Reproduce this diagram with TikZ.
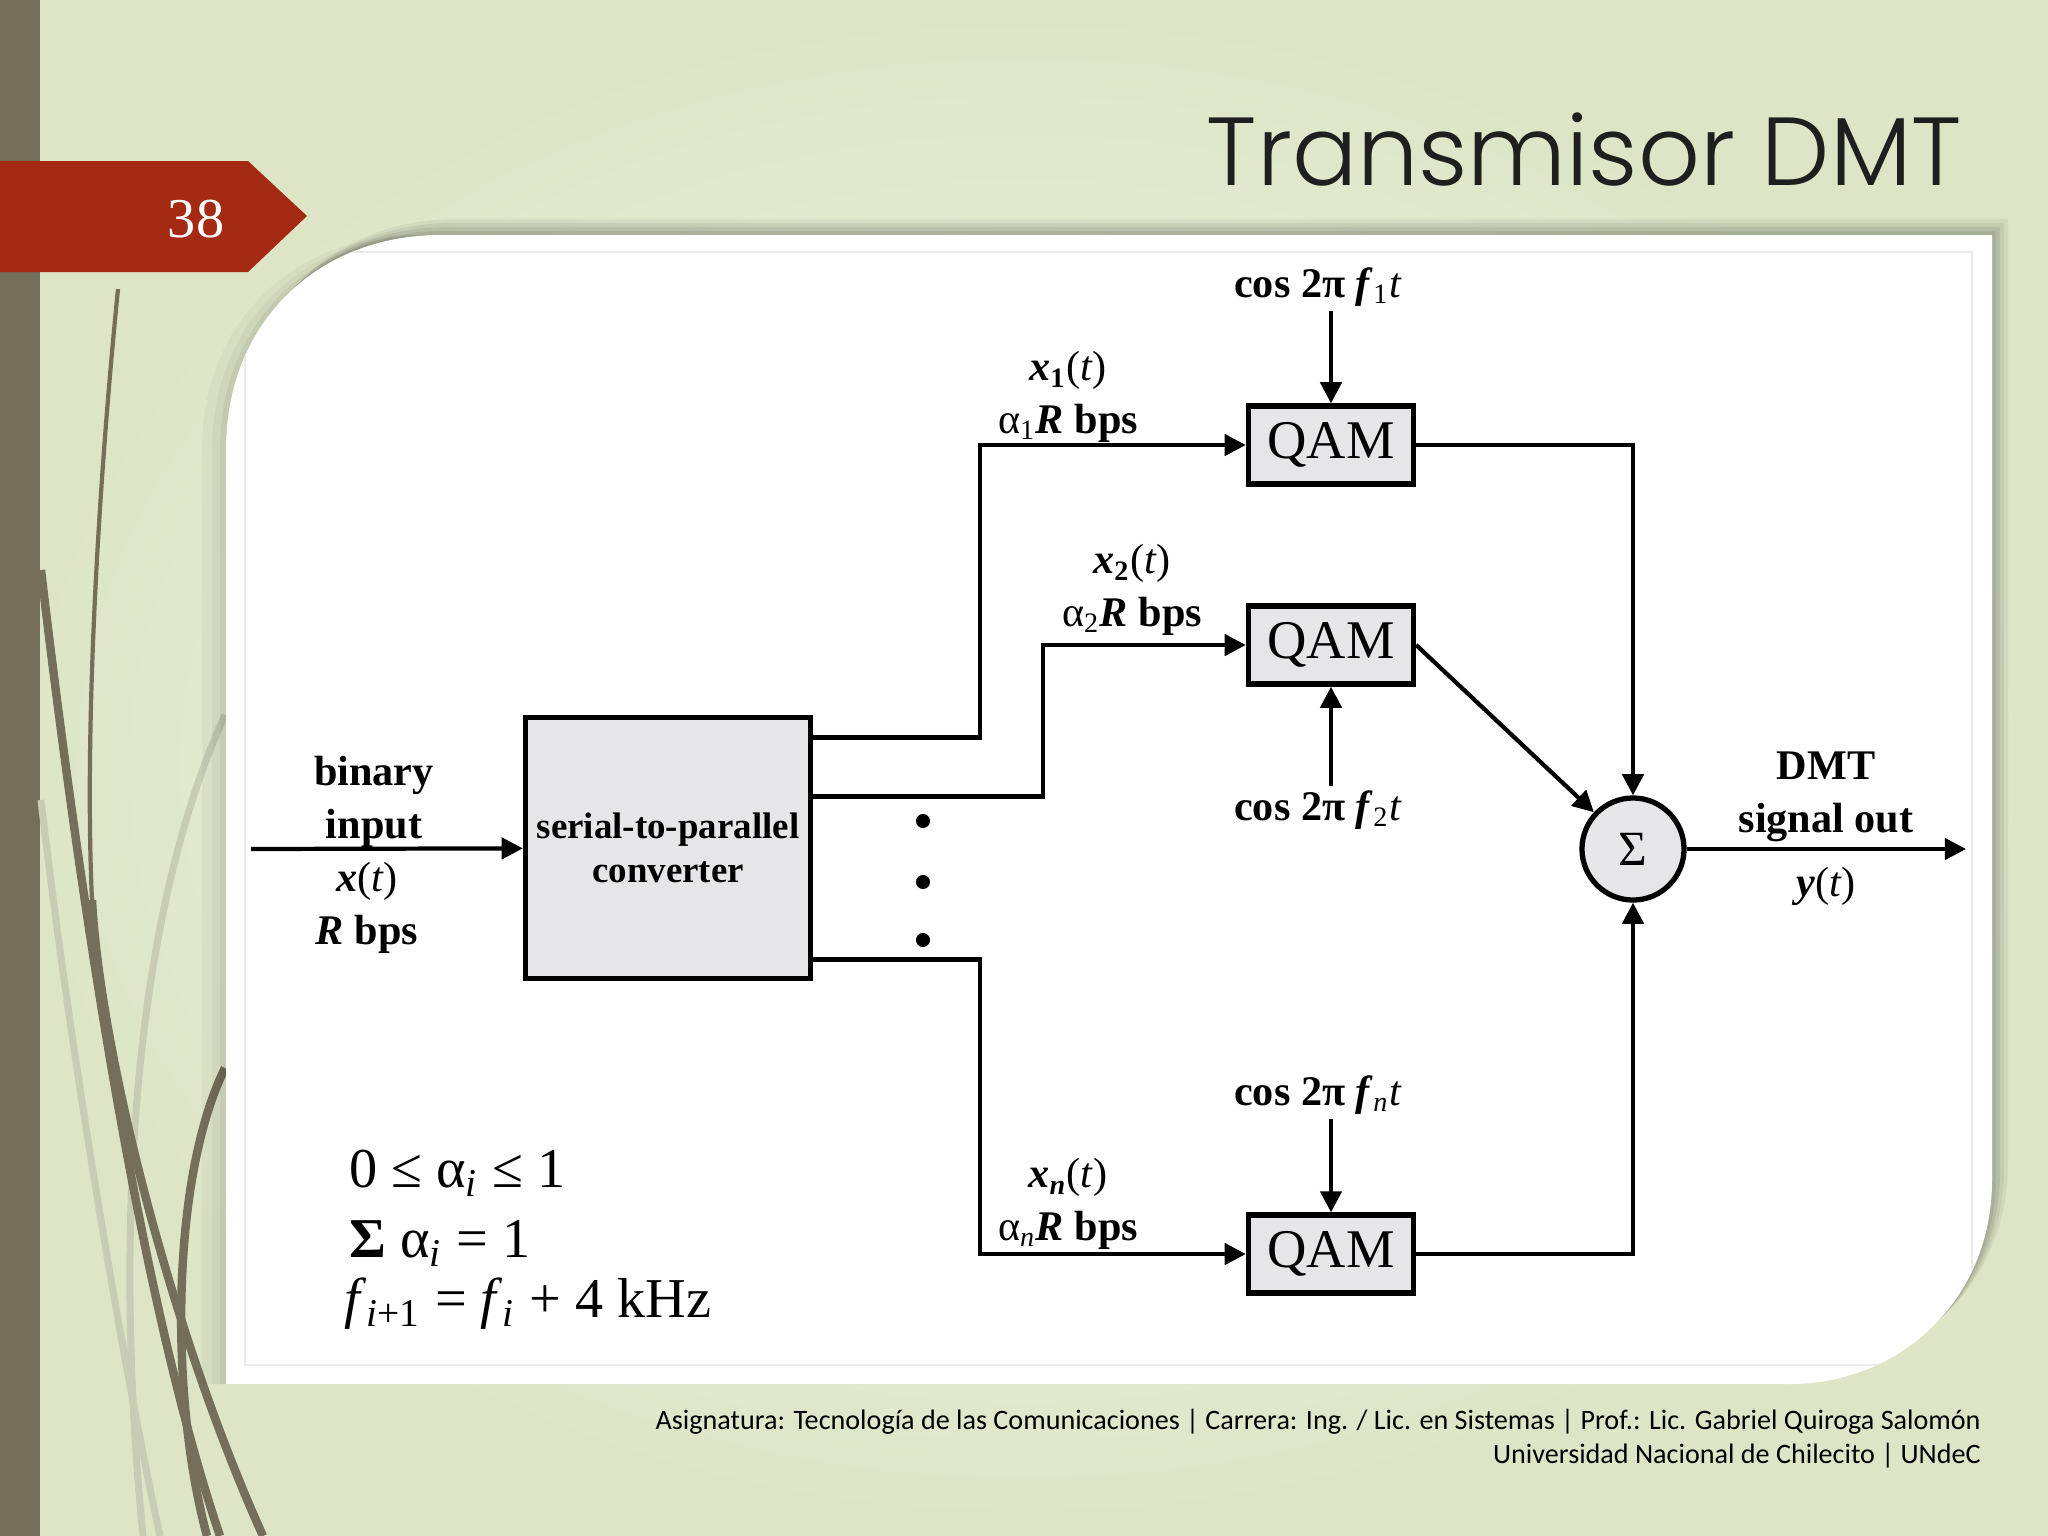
\documentclass[tikz,border=0pt]{standalone}
\usepackage{fontspec}
\setmainfont{Liberation Serif}
\IfFontExistsTF{Poppins Light}{\newfontfamily\titlefont{Poppins Light}}{\newfontfamily\titlefont{Poppins}}
\newfontfamily\footfont{Carlito}
\usepackage{tikz}
\usetikzlibrary{arrows.meta, positioning, calc}

\definecolor{bglight}{RGB}{241,244,231}
\definecolor{bgdark}{RGB}{221,229,198}
\definecolor{stripe}{RGB}{117,111,90}
\definecolor{faint}{RGB}{199,204,179}
\definecolor{tagred}{RGB}{165,42,20}
\definecolor{boxgrey}{RGB}{230,230,232}

\newcommand{\cardpath}{(226,1384) -- (226,450) .. controls (226,320) and (320,235) .. (440,235) -- (1992,235) -- (1992,1180) .. controls (1992,1300) and (1900,1384) .. (1790,1384) -- cycle}

\begin{document}
\begin{tikzpicture}[x=0.01cm, y=-0.01cm,
    every node/.style={inner sep=1pt},
    blk/.style={draw, line width=1.5pt, fill=boxgrey},
    qam/.style={blk, minimum width=1.65cm, minimum height=0.78cm, font=\fontsize{15.5}{18}\selectfont},
    sig/.style={-{Triangle[length=6pt, width=6pt]}, line width=1.2pt},
    lbl/.style={align=center, font=\fontsize{12}{15}\selectfont\bfseries},
    cosl/.style={font=\fontsize{12}{14}\selectfont},
    formula/.style={anchor=west, font=\fontsize{16}{19}\selectfont}
]
\useasboundingbox (0,0) rectangle (2048,1536);

% fondo de la diapositiva
\shade[inner color=bglight, outer color=bgdark] (0,0) rectangle (2048,1536);
\fill[stripe] (0,0) rectangle (40,1536);
\begin{scope}[faint, line width=2pt]
\draw (41,800) .. controls (70,1050) and (120,1350) .. (160,1536);
\draw (225,715) .. controls (140,900) and (110,1200) .. (143,1536);
\end{scope}
\begin{scope}[stripe, line width=2.4pt]
\draw (41,570) .. controls (80,900) and (140,1300) .. (220,1536);
\draw[line width=1.2pt] (118,289) .. controls (95,520) and (85,750) .. (92,900);
\draw (92,900) .. controls (100,1050) and (170,1330) .. (263,1536);
\draw (225,1068) .. controls (170,1180) and (170,1400) .. (207,1536);
\end{scope}

% numero de diapositiva
\fill[tagred] (0,161) -- (248,161) -- (307,216) -- (248,272) -- (0,272) -- cycle;
\node[text=white, font=\fontsize{16}{18}\selectfont] (num) at (196,219) {38};

% titulo
\node[anchor=base east, font=\titlefont\fontsize{27.5}{33}\selectfont, text=black!88] (title) at (1966,185) {Transmisor DMT};

% tarjeta blanca con sombra
\foreach \s/\o in {4/0.07, 8/0.07, 12/0.06, 16/0.05}
  \fill[black, opacity=\o, shift={(\s,-\s)}] \cardpath;
\foreach \s/\o in {6/0.05, 14/0.04, 24/0.03}
  \fill[black, opacity=\o, shift={(-\s,0)}] \cardpath;
\fill[white] \cardpath;
\begin{scope}
\clip \cardpath;
\draw[black!8, line width=0.6pt] (245,252) rectangle (1972,1365);
\end{scope}

% bloques
\node[blk, minimum width=2.85cm, minimum height=2.61cm, align=center,
      font=\fontsize{10.5}{12.5}\selectfont\bfseries] (sp) at (668,848) {serial-to-parallel\\converter};
\node[qam] (q1) at (1331,445) {QAM};
\node[qam] (q2) at (1331,645) {QAM};
\node[qam] (qn) at (1331,1254) {QAM};
\node[blk, circle, minimum size=1.02cm, font=\fontsize{14}{16}\selectfont] (sum) at (1633,849) {Σ};

\coordinate (in) at (251,849);
\coordinate (out) at (1966,849);

% entrada
\draw[sig] (in) -- (sp);
\node[lbl] (bin) at (374,802) {binary\\input};
\node[lbl, font=\fontsize{12}{15}\selectfont] (xin) at (367,908) {\textbf{\textit{x}}(\textit{t})\\\textbf{\textit{R} bps}};

% salidas del convertidor
\draw[sig] ([yshift=1.105cm]sp.east) -- ++(167,0) |- (q1.west);
\draw[sig] ([yshift=0.515cm]sp.east) -- ++(230,0) |- (q2.west);
\draw[sig] ([yshift=-1.115cm]sp.east) -- ++(167,0) |- (qn.west);
\foreach \y in {821,882,940}
  \fill (923,\y) circle[radius=2pt];

\node[lbl, font=\fontsize{12}{15}\selectfont] (x1) at (1068,397) {\textbf{\textit{x}\textsubscript{1}}(\textit{t})\\α\textsubscript{1}\textbf{\textit{R} bps}};
\node[lbl, font=\fontsize{12}{15}\selectfont] (x2) at (1132,590) {\textbf{\textit{x}\textsubscript{2}}(\textit{t})\\α\textsubscript{2}\textbf{\textit{R} bps}};
\node[lbl, font=\fontsize{12}{15}\selectfont] (xn) at (1068,1204) {\textbf{\textit{x}\textsubscript{\textit{n}}}(\textit{t})\\α\textsubscript{\textit{n}}\textbf{\textit{R} bps}};

% portadoras
\node[cosl] (c1) at (1318,287) {\textbf{cos 2π} \textbf{\textit{f}}\textsubscript{1}\textit{t}};
\node[cosl] (c2) at (1318,810) {\textbf{cos 2π} \textbf{\textit{f}}\textsubscript{2}\textit{t}};
\node[cosl] (cn) at (1318,1095) {\textbf{cos 2π} \textbf{\textit{f}}\textsubscript{\textit{n}}\textit{t}};
\draw[sig] (c1.south -| q1.north) -- (q1.north);
\draw[sig] (c2.north -| q2.south) -- (q2.south);
\draw[sig] (cn.south -| qn.north) -- (qn.north);

% suma y salida
\draw[sig] (q1.east) -| (sum.north);
\draw[sig] (q2.east) -- (sum);
\draw[sig] (qn.east) -| (sum.south);
\draw[sig] (sum) -- (out);
\node[lbl] (dmt) at (1826,797) {DMT\\signal out};
\node[font=\fontsize{12}{14}\selectfont] (yout) at (1826,886) {\textbf{\textit{y}}(\textit{t})};

% condiciones
\node[formula] (f1) at (345,1173) {0 ≤ α\textsubscript{\textit{i}} ≤ 1};
\node[formula] (f2) at (345,1243) {\textbf{Σ} α\textsubscript{\textit{i}} = 1};
\node[formula] (f3) at (340,1304) {\textit{f}\textsubscript{\textit{i}+1} = \textit{f}\textsubscript{\textit{i}} + 4 kHz};

% pie
\node[anchor=base east, font=\footfont\fontsize{8}{10}\selectfont] (foot1) at (1985,1429) {Asignatura: Tecnología de las Comunicaciones | Carrera: Ing. / Lic. en Sistemas | Prof.: Lic. Gabriel Quiroga Salomón};
\node[anchor=base east, font=\footfont\fontsize{8}{10}\selectfont] (foot2) at (1985,1463) {Universidad Nacional de Chilecito | UNdeC};
\end{tikzpicture}
\end{document}
